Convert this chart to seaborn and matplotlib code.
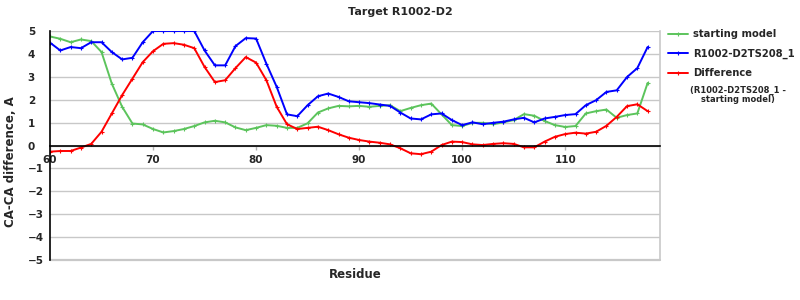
import numpy as np
import pandas as pd
import matplotlib
matplotlib.use("Agg")
import matplotlib.pyplot as plt
import seaborn as sns
from matplotlib.lines import Line2D

residues = list(range(60, 119))

starting_model = [4.76, 4.66, 4.51, 4.63, 4.56, 4.08, 2.70, 1.69, 0.96, 0.92,
                  0.72, 0.57, 0.63, 0.72, 0.85, 1.01, 1.08, 1.01, 0.79, 0.67,
                  0.77, 0.89, 0.86, 0.77, 0.77, 0.97, 1.44, 1.62, 1.73, 1.71,
                  1.73, 1.69, 1.73, 1.76, 1.50, 1.64, 1.76, 1.83, 1.36, 0.89,
                  0.85, 0.99, 0.99, 0.93, 1.01, 1.11, 1.37, 1.30, 1.07, 0.89,
                  0.81, 0.85, 1.40, 1.50, 1.57, 1.21, 1.33, 1.40, 2.73]

model_ts208 = [4.49, 4.15, 4.30, 4.25, 4.51, 4.51, 4.08, 3.76, 3.83, 4.51,
               5.00, 5.00, 5.00, 5.00, 5.00, 4.15, 3.50, 3.50, 4.34, 4.69,
               4.67, 3.57, 2.56, 1.36, 1.28, 1.76, 2.15, 2.27, 2.12, 1.93,
               1.89, 1.85, 1.79, 1.73, 1.44, 1.18, 1.14, 1.36, 1.40, 1.11,
               0.89, 1.01, 0.93, 0.99, 1.04, 1.14, 1.21, 1.01, 1.18, 1.25,
               1.33, 1.37, 1.76, 1.98, 2.34, 2.41, 2.99, 3.38, 4.30]

difference = [-0.27, -0.24, -0.24, -0.09, 0.07, 0.60, 1.40, 2.20, 2.92, 3.64,
              4.12, 4.44, 4.47, 4.40, 4.25, 3.43, 2.77, 2.85, 3.38, 3.86,
              3.62, 2.85, 1.69, 0.93, 0.72, 0.77, 0.82, 0.67, 0.49, 0.34,
              0.24, 0.17, 0.12, 0.05, -0.12, -0.34, -0.38, -0.27, 0.02, 0.17,
              0.15, 0.05, 0.02, 0.07, 0.10, 0.07, -0.08, -0.08, 0.17, 0.38,
              0.50, 0.56, 0.52, 0.60, 0.86, 1.25, 1.72, 1.80, 1.50]

series_names = ["starting model", "R1002-D2TS208_1", "Difference"]
series_colors = ["#5cc45c", "#0000ff", "#ff0000"]
x_ticks = [60, 70, 80, 90, 100, 110]
y_ticks = [-5, -4, -3, -2, -1, 0, 1, 2, 3, 4, 5]

df = pd.DataFrame({
    "Residue": residues * 3,
    "value": starting_model + model_ts208 + difference,
    "series": sum([[n] * len(residues) for n in series_names], []),
})

sns.set_style("white")
plt.rcParams["font.family"] = ["DejaVu Sans"]

fig = plt.figure(figsize=(8, 3), dpi=100)
ax = fig.add_axes([50 / 800, 1 - 260 / 300, 610 / 800, 229 / 300])

for name, col in zip(series_names, series_colors):
    sns.lineplot(data=df[df["series"] == name], x="Residue", y="value",
                 ax=ax, color=col, lw=1.4, marker="+", markersize=2.5,
                 markeredgewidth=0.8, markeredgecolor=col, legend=False,
                 errorbar=None, clip_on=True)

ax.set_xlim(60, 119.2)
ax.set_ylim(-5, 5)
ax.set_yticks(y_ticks)
ax.set_xticks(x_ticks)
ax.grid(axis="y", color="#c8c8c8", lw=1.0)
ax.grid(axis="x", visible=False)
ax.set_axisbelow(True)

ax.spines["top"].set_visible(False)
ax.spines["right"].set_color("#c8c8c8")
ax.spines["right"].set_linewidth(1.2)
ax.spines["left"].set_color("black")
ax.spines["left"].set_linewidth(1.2)
ax.spines["bottom"].set_position(("data", 0))
ax.spines["bottom"].set_color("black")
ax.spines["bottom"].set_linewidth(1.2)
ax.axhline(-5, color="#c8c8c8", lw=1.6, clip_on=False, zorder=0.5)

ax.tick_params(axis="x", direction="out", length=3, width=1, color="#b0b0b0",
               pad=3.5, labelsize=7.5, bottom=True)
ax.tick_params(axis="y", length=0, pad=16, labelsize=7.5)
for lab in ax.get_yticklabels():
    lab.set_horizontalalignment("left")
    lab.set_fontweight("bold")
for lab in ax.get_xticklabels():
    lab.set_fontweight("bold")

ax.set_xlabel("Residue", fontsize=8.5, fontweight="bold")
ax.xaxis.set_label_coords(0.5, -0.035)
ax.set_ylabel("CA-CA difference, A", fontsize=8.5, fontweight="bold")
ax.yaxis.set_label_coords(-0.054, 0.43)

fig.text(0.5, 1 - 12 / 300, "Target R1002-D2", ha="center", va="center",
         fontsize=8, fontweight="bold")

handles = [Line2D([], [], color=c, lw=1.4, marker="+", markersize=2.5,
                  markeredgewidth=0.8, markevery=[1]) for c in series_colors]
leg = fig.legend(handles, series_names, loc="upper left",
                 bbox_to_anchor=(668 / 800, 1 - 29 / 300), frameon=False,
                 prop={"size": 7.2, "weight": "bold"}, handlelength=2.0,
                 handletextpad=0.5, labelspacing=0.95, borderpad=0,
                 borderaxespad=0)
fig.text(738 / 800, 1 - 95 / 300, "(R1002-D2TS208_1 -\nstarting model)",
         ha="center", va="center", fontsize=6.0, fontweight="bold",
         multialignment="center", linespacing=1.05)

fig.savefig("out.png", dpi=100)
